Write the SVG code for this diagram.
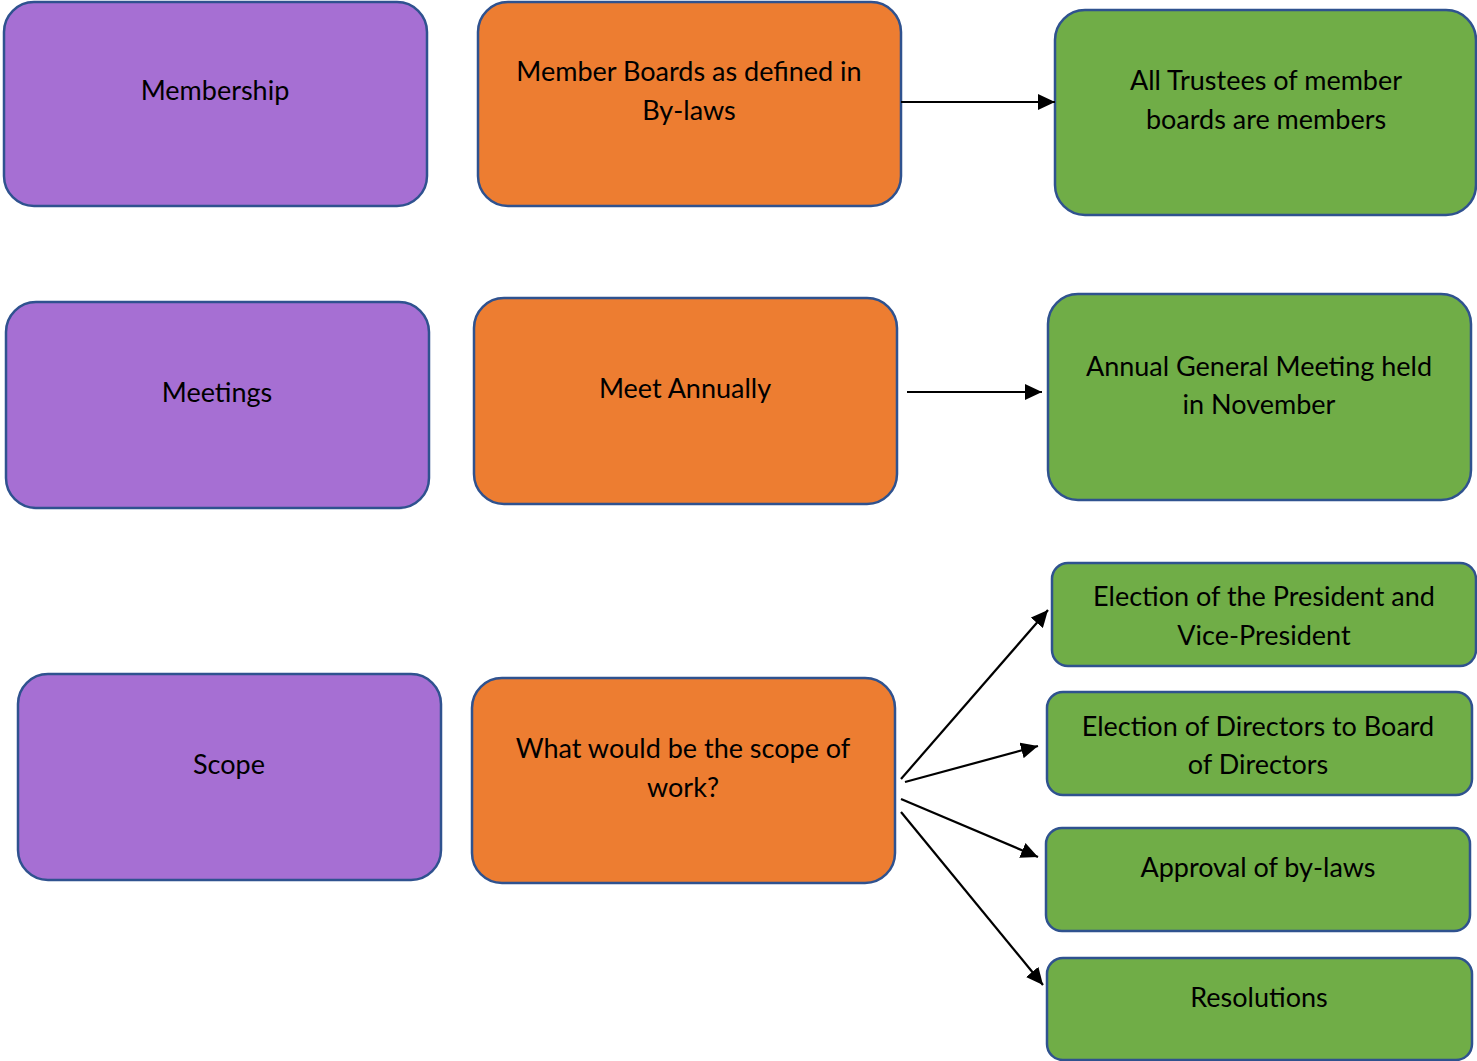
<svg xmlns="http://www.w3.org/2000/svg" width="1477" height="1061" viewBox="0 0 1477 1061">
<style>
.box{stroke:#2F528F;stroke-width:2.5}
.p{fill:#A66FD3}
.o{fill:#ED7D31}
.g{fill:#70AD47}
text{font-family:Lato,"Liberation Sans",sans-serif;font-size:27px;fill:#000;text-anchor:middle}
.c line{stroke:#000;stroke-width:2.2;marker-end:url(#ah)}
</style>
<defs>
<marker id="ah" markerUnits="userSpaceOnUse" markerWidth="18" markerHeight="16" refX="17" refY="8" orient="auto">
<path d="M0,0 L17,8 L0,16 Z" fill="#000"/>
</marker>
</defs>
<rect width="1477" height="1061" fill="#fff"/>
<g id="membership"><rect class="box p" x="4" y="2" width="423" height="204" rx="30"/><text x="215" y="100">Membership</text></g>
<g id="member-boards"><rect class="box o" x="478" y="2" width="423" height="204" rx="30"/><text x="689" y="81">Member Boards as defined in</text><text x="689" y="120">By-laws</text></g>
<g id="all-trustees"><rect class="box g" x="1055" y="10" width="421" height="205" rx="30"/><text x="1266" y="90">All Trustees of member</text><text x="1266" y="129">boards are members</text></g>
<g id="meetings"><rect class="box p" x="6" y="302" width="423" height="206" rx="30"/><text x="217" y="402">Meetings</text></g>
<g id="meet-annually"><rect class="box o" x="474" y="298" width="423" height="206" rx="30"/><text x="685" y="398">Meet Annually</text></g>
<g id="agm"><rect class="box g" x="1048" y="294" width="423" height="206" rx="30"/><text x="1259" y="376">Annual General Meeting held</text><text x="1259" y="414">in November</text></g>
<g id="scope"><rect class="box p" x="18" y="674" width="423" height="206" rx="30"/><text x="229" y="774">Scope</text></g>
<g id="scope-question"><rect class="box o" x="472" y="678" width="423" height="205" rx="30"/><text x="683" y="758">What would be the scope of</text><text x="683" y="797">work?</text></g>
<g id="election-president"><rect class="box g" x="1052" y="563" width="424" height="103" rx="16"/><text x="1264" y="606">Election of the President and</text><text x="1264" y="645">Vice-President</text></g>
<g id="election-directors"><rect class="box g" x="1047" y="692" width="425" height="103" rx="16"/><text x="1258" y="736">Election of Directors to Board</text><text x="1258" y="774">of Directors</text></g>
<g id="approval"><rect class="box g" x="1046" y="828" width="424" height="103" rx="16"/><text x="1258" y="877">Approval of by-laws</text></g>
<g id="resolutions"><rect class="box g" x="1047" y="958" width="425" height="102" rx="16"/><text x="1259" y="1007">Resolutions</text></g>
<g id="connectors" class="c">
<line x1="901" y1="102" x2="1055" y2="102"/>
<line x1="907" y1="392" x2="1042" y2="392"/>
<line x1="901" y1="779" x2="1048" y2="610"/>
<line x1="905" y1="782" x2="1038" y2="746"/>
<line x1="901" y1="799" x2="1038" y2="857"/>
<line x1="901" y1="812" x2="1043" y2="985"/>
</g>
</svg>
